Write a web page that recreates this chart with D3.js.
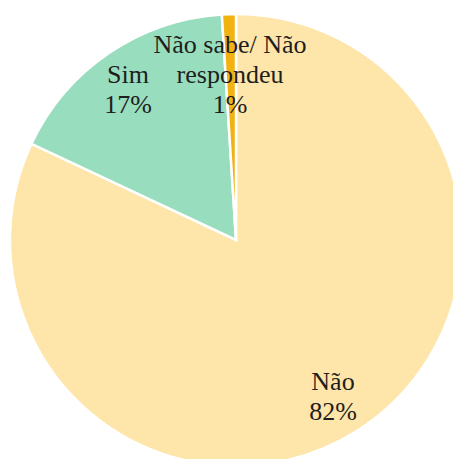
<!DOCTYPE html>
<html>
<head>
<meta charset="utf-8">
<script src="https://cdn.jsdelivr.net/npm/d3@7"></script>
<style>
  html, body { margin: 0; padding: 0; background: #fff; }
  svg { display: block; }
</style>
</head>
<body>
<svg id="chart" width="453" height="459"></svg>
<script>
// Answer categories and their shares (%)
const categories = ["Não", "Sim", "Não sabe/ Não respondeu"];
const values = [82, 17, 1];
// Label lines for each slice
const labelLines = [["Não", "82%"], ["Sim", "17%"], ["Não sabe/ Não", "respondeu", "1%"]];
const colors = ["#FEE5A9", "#98DDBD", "#F2B312"];

const svg = d3.select("#chart");
const cx = 236, cy = 240, r = 226;

const pie = d3.pie().sort(null).value(d => d)(values);
const arc = d3.arc().innerRadius(0).outerRadius(r);

const g = svg.append("g").attr("transform", `translate(${cx},${cy})`);

g.selectAll("path")
  .data(pie)
  .join("path")
  .attr("d", arc)
  .attr("fill", (d, i) => colors[i])
  .attr("stroke", "#fff")
  .attr("stroke-width", 2.5);

// Label anchor positions (baseline of first line), relative to chart center
const labelPos = [[97, 150], [-108, -157], [-6, -187]];
const lineH = 30;

// One text element per label line
labelPos.forEach((p, i) => {
  labelLines[i].forEach((line, k) => {
    g.append("text")
      .attr("x", p[0])
      .attr("y", p[1] + k * lineH)
      .attr("text-anchor", "middle")
      .style("font-family", "\"Liberation Serif\"")
      .style("font-size", "26px")
      .style("fill", "#1e1e1e")
      .text(line);
  });
});
</script>
</body>
</html>
